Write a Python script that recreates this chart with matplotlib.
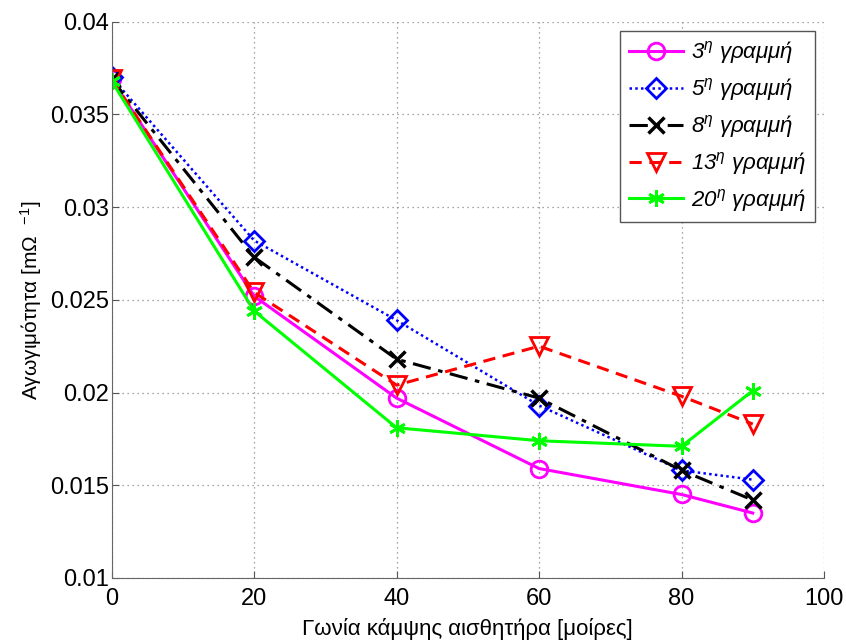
import matplotlib.pyplot as plt
import numpy as np

# data
angles = [0, 20, 40, 60, 80, 90]
line3 = [0.0369, 0.0252, 0.0197, 0.0159, 0.0145, 0.0135]
line5 = [0.0370, 0.0282, 0.0239, 0.0193, 0.0158, 0.0153]
line8 = [0.0369, 0.0273, 0.0218, 0.0197, 0.0158, 0.0142]
line13 = [0.0369, 0.0254, 0.0204, 0.0225, 0.0198, 0.0183]
line20 = [0.0368, 0.0244, 0.0181, 0.0174, 0.0171, 0.0201]
labels = ['3', '5', '8', '13', '20']

plt.rcParams['font.family'] = ['Liberation Sans', 'DejaVu Sans']
plt.rcParams['mathtext.fontset'] = 'custom'
plt.rcParams['mathtext.rm'] = 'Liberation Sans'
plt.rcParams['mathtext.it'] = 'Liberation Sans:italic'

fig = plt.figure(figsize=(8.46, 6.4), dpi=100)
ax = fig.add_axes([0.132, 0.097, 0.842, 0.869])

asterisk = (6, 2, 0)
styles = [
    dict(color='#ff00ff', linestyle='-', marker='o', lw=2.2, markersize=12),
    dict(color='#0000ff', linestyle=(0, (1, 1.3)), marker='D', lw=1.8, markersize=10),
    dict(color='black', linestyle=(0, (6, 2.5, 1.5, 2.5)), marker='x', lw=2.2, mew=2.5, markersize=11),
    dict(color='#ff0000', linestyle=(0, (4, 2.5)), marker='v', lw=2.2, markersize=13),
    dict(color='#00ff00', linestyle='-', marker=asterisk, lw=2.2, mew=2, markersize=12),
]
series = [line3, line5, line8, line13, line20]

for ys, lab, st in zip(series, labels, styles):
    kw = dict(mfc='none', mew=2)
    kw.update(st)
    ax.plot(angles, ys, label=r'%s$^{η}$ γραμμή' % lab, **kw)

ax.set_xlim(0, 100)
ax.set_ylim(0.01, 0.04)
ax.set_xticks(np.arange(0, 101, 20))
ax.set_yticks(np.arange(0.01, 0.0401, 0.005))
ax.set_yticklabels(['0.01', '0.015', '0.02', '0.025', '0.03', '0.035', '0.04'])
ax.tick_params(direction='in', labelsize=17, length=5, color='#555555')
ax.tick_params(axis='x', pad=7)
ax.tick_params(axis='y', pad=2)
ax.grid(True, linestyle=(0, (1, 3)), color='#888888', lw=0.9)
for s in ['top', 'right']:
    ax.spines[s].set_visible(False)
for s in ['left', 'bottom']:
    ax.spines[s].set_color('#666666')

ax.set_xlabel('Γωνία κάμψης αισθητήρα [μοίρες]', fontsize=16, labelpad=6)
ax.set_ylabel(r'Αγωγιμότητα [mΩ  $^{-1}$]', fontsize=15, labelpad=4)

leg = ax.legend(loc='upper right', prop={'style': 'italic', 'size': 16},
                fancybox=False, edgecolor='#555555', framealpha=1,
                handlelength=2.4, borderaxespad=0.4, labelspacing=0.45,
                handletextpad=0.4, borderpad=0.4)
leg.get_frame().set_linewidth(1)

fig.savefig('out.png', dpi=100)
